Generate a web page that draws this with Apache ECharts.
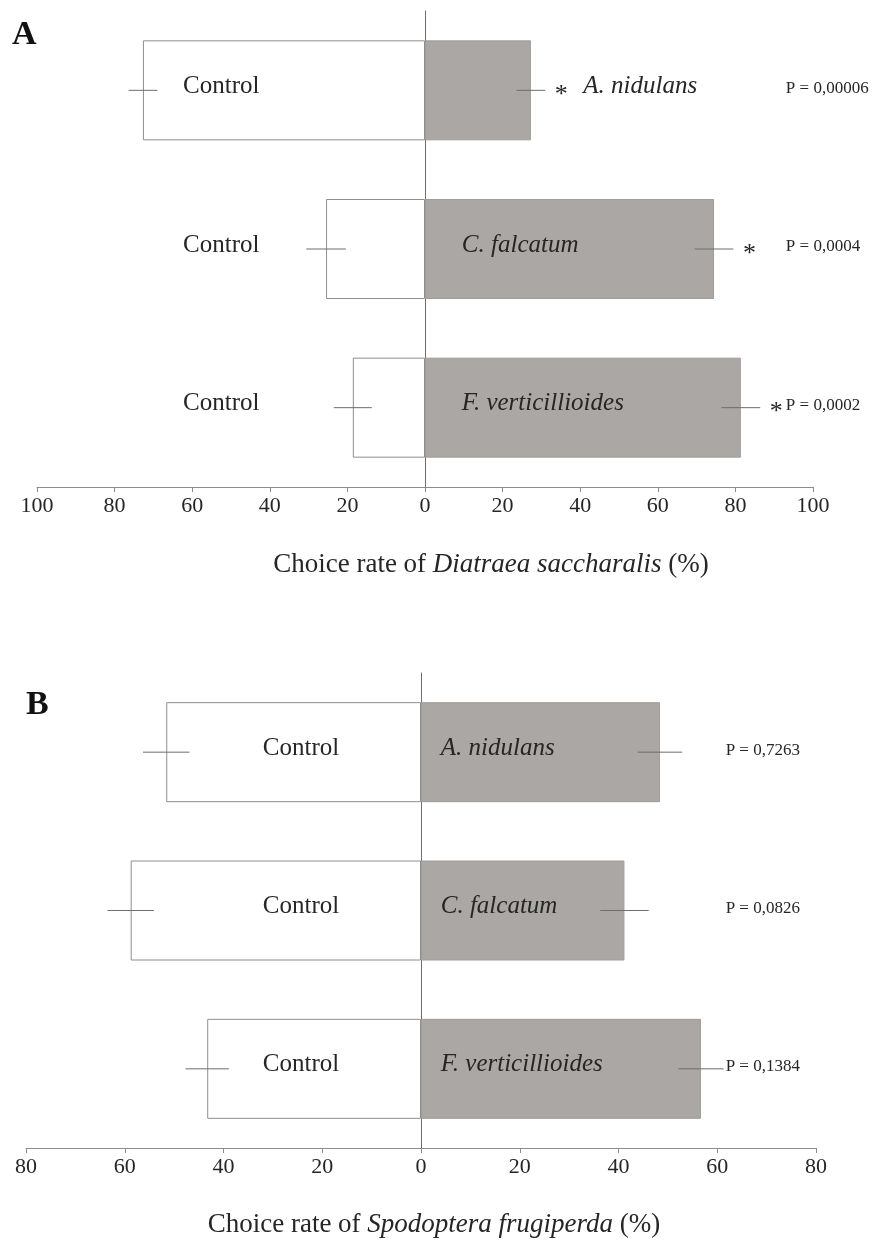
<!DOCTYPE html>
<html>
<head>
<meta charset="utf-8">
<title>Choice rate of lepidopteran larvae</title>
<script src="https://cdn.jsdelivr.net/npm/echarts@6/dist/echarts.min.js"></script>
<style>
  html, body { margin: 0; padding: 0; background: #fff; }
  #chart { width: 878px; height: 1247px; }
</style>
</head>
<body>
<div id="chart"></div>
<script>
// Fungal treatments (rows, top to bottom)
const fungi = ['A. nidulans', 'C. falcatum', 'F. verticillioides'];

// Panel A: Diatraea saccharalis choice rate (%)
const controlA = [72.7, 25.5, 18.6];
const treatedA = [27.3, 74.5, 81.4];
const controlErrA = [3.7, 5.1, 4.9];
const treatedErrA = [3.7, 5.0, 5.0];
const pValuesA = ['P = 0,00006', 'P = 0,0004', 'P = 0,0002'];
const significantA = [true, true, true];

// Panel B: Spodoptera frugiperda choice rate (%)
const controlB = [51.6, 58.8, 43.3];
const treatedB = [48.4, 41.2, 56.7];
const controlErrB = [4.7, 4.7, 4.4];
const treatedErrB = [4.5, 4.9, 4.6];
const pValuesB = ['P = 0,7263', 'P = 0,0826', 'P = 0,1384'];
const significantB = [false, false, false];

// Axis ranges / tick spacing
const axisA = { min: -100, max: 100, interval: 20 };
const axisB = { min: -80, max: 80, interval: 20 };

const SERIF = "'Liberation Serif', 'DejaVu Serif', 'Times New Roman', serif";
const INK = '#262626';
const LINE = '#8c8c8c';

const chart = echarts.init(document.getElementById('chart'), null, { renderer: 'canvas' });

function valueAxis(gridIndex, range) {
  return {
    type: 'value', gridIndex: gridIndex,
    min: range.min, max: range.max, interval: range.interval,
    axisLine: { show: true, lineStyle: { color: LINE, width: 1 } },
    axisTick: { show: true, inside: false, length: 5, lineStyle: { color: LINE } },
    splitLine: { show: false },
    axisLabel: {
      color: INK, fontFamily: SERIF, fontSize: 22, margin: 8,
      formatter: v => String(Math.abs(v))
    }
  };
}

function categoryAxis(gridIndex) {
  return {
    type: 'category', gridIndex: gridIndex, data: fungi, inverse: true,
    axisLine: { show: true, onZero: true, lineStyle: { color: '#6e6e6e', width: 1 } },
    axisTick: { show: false }, axisLabel: { show: false }, splitLine: { show: false }
  };
}

// Horizontal error bars centred on each bar end
function errorSeries(gridIndex, values, errs, sign) {
  return {
    type: 'custom', xAxisIndex: gridIndex, yAxisIndex: gridIndex, z: 5, silent: true,
    encode: { x: 0, y: 1 },
    data: values.map((v, i) => [sign * v, i, errs[i]]),
    renderItem: function (params, api) {
      const v = api.value(0), i = api.value(1), e = api.value(2);
      const a = api.coord([v - e, i]);
      const b = api.coord([v + e, i]);
      return {
        type: 'line',
        shape: { x1: a[0], y1: a[1], x2: b[0], y2: b[1] },
        style: { stroke: '#6e6e6e', lineWidth: 1 }
      };
    }
  };
}

// Row annotations: "Control", fungus name, significance star, P value
function annotationSeries(gridIndex, opts) {
  return {
    type: 'custom', xAxisIndex: gridIndex, yAxisIndex: gridIndex, z: 6, silent: true, clip: false,
    encode: { x: 0, y: 1 },
    data: opts.treated.map((v, i) => [v, i, opts.treatedErr[i]]),
    renderItem: function (params, api) {
      const i = api.value(1);
      const v = api.value(0), e = api.value(2);
      const rowY = api.coord([0, i])[1];
      const children = [];
      const ctrl = api.coord([opts.controlTextX, i]);
      children.push({
        type: 'text',
        style: { text: 'Control', x: ctrl[0], y: rowY - 4, align: 'center', verticalAlign: 'middle',
                 font: '25px ' + SERIF, fill: INK }
      });
      const errEnd = api.coord([v + e, i])[0];
      let nameX;
      if (opts.significant[i]) {
        const starX = errEnd + 16;
        children.push({
          type: 'text',
          style: { text: '*', x: starX, y: rowY + 5, align: 'center', verticalAlign: 'middle',
                   font: '26px ' + SERIF, fill: INK }
        });
      }
      if (v < opts.nameInsideMin) {
        nameX = errEnd + 38;
      } else {
        nameX = api.coord([opts.nameX, i])[0];
      }
      children.push({
        type: 'text',
        style: { text: fungi[i], x: nameX, y: rowY - 4, align: 'left', verticalAlign: 'middle',
                 font: 'italic 25px ' + SERIF, fill: INK }
      });
      const p = api.coord([opts.pX, i]);
      children.push({
        type: 'text',
        style: { text: opts.pValues[i], x: p[0], y: rowY - 2, align: 'left', verticalAlign: 'middle',
                 font: '17px ' + SERIF, fill: INK }
      });
      return { type: 'group', children: children };
    }
  };
}

function barPair(gridIndex, control, treated) {
  return [
    {
      type: 'bar', xAxisIndex: gridIndex, yAxisIndex: gridIndex, barWidth: 100, z: 2,
      data: control.map(v => -v),
      itemStyle: { color: '#ffffff', borderColor: '#8e8e8e', borderWidth: 1 }
    },
    {
      type: 'bar', xAxisIndex: gridIndex, yAxisIndex: gridIndex, barWidth: 100, barGap: '-100%', z: 2,
      data: treated,
      itemStyle: { color: '#aba7a4', borderColor: '#a09c99', borderWidth: 1 }
    }
  ];
}

const option = {
  backgroundColor: '#ffffff',
  animation: false,
  grid: [
    { left: 37, right: 65, top: 11, height: 476 },
    { left: 26, right: 62, top: 673, height: 475 }
  ],
  xAxis: [valueAxis(0, axisA), valueAxis(1, axisB)],
  yAxis: [categoryAxis(0), categoryAxis(1)],
  series: [
    ...barPair(0, controlA, treatedA),
    errorSeries(0, controlA, controlErrA, -1),
    errorSeries(0, treatedA, treatedErrA, 1),
    annotationSeries(0, {
      treated: treatedA, treatedErr: treatedErrA, significant: significantA, pValues: pValuesA,
      controlTextX: -52.5, nameX: 9.5, nameInsideMin: 40, pX: 93
    }),
    ...barPair(1, controlB, treatedB),
    errorSeries(1, controlB, controlErrB, -1),
    errorSeries(1, treatedB, treatedErrB, 1),
    annotationSeries(1, {
      treated: treatedB, treatedErr: treatedErrB, significant: significantB, pValues: pValuesB,
      controlTextX: -24.3, nameX: 4, nameInsideMin: 20, pX: 61.7
    })
  ],
  graphic: [
    { type: 'text', left: 12, top: 18,
      style: { text: 'A', font: 'bold 34px ' + SERIF, fill: '#111' } },
    { type: 'text', left: 26, top: 688,
      style: { text: 'B', font: 'bold 34px ' + SERIF, fill: '#111' } },
    { type: 'text', x: 491, y: 565,
      style: {
        text: '{n|Choice rate of }{i|Diatraea saccharalis}{n| (%)}',
        align: 'center', verticalAlign: 'middle',
        rich: {
          n: { font: '27px ' + SERIF, fill: INK },
          i: { font: 'italic 27px ' + SERIF, fill: INK }
        }
      } },
    { type: 'text', x: 434, y: 1225,
      style: {
        text: '{n|Choice rate of }{i|Spodoptera frugiperda}{n| (%)}',
        align: 'center', verticalAlign: 'middle',
        rich: {
          n: { font: '27px ' + SERIF, fill: INK },
          i: { font: 'italic 27px ' + SERIF, fill: INK }
        }
      } }
  ]
};

chart.setOption(option);
</script>
</body>
</html>
